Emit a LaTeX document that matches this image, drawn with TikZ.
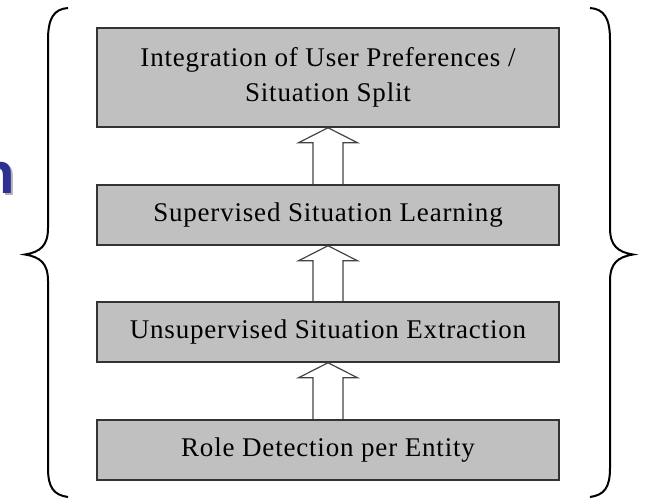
\documentclass[tikz,border=0pt]{standalone}
\usepackage{fontspec}
\setmainfont{Liberation Serif}[LetterSpace=3]
\newfontfamily\bigsans{Liberation Sans}
\usetikzlibrary{calc}
\definecolor{boxgray}{HTML}{C0C0C0}
\definecolor{boxline}{HTML}{333333}
\definecolor{arrline}{HTML}{444444}
\definecolor{titleblue}{HTML}{2E3192}
\tikzset{
  stage/.style={draw=boxline, line width=1.5pt, fill=boxgray, minimum width=462pt, inner sep=0pt, align=center, font=\fontsize{27}{35}\selectfont},
  blk/.style={draw=arrline, line width=1.2pt, line join=miter},
  brace/.style={draw=black, line width=2pt},
}
\begin{document}
\begin{tikzpicture}[x=1pt,y=-1pt]
\clip (0,0) rectangle (645,499);
\fill[white] (0,0) rectangle (645,499);
% partial title letter
\node[anchor=base east, inner sep=0pt, text=gray!60, font=\bigsans\bfseries\fontsize{58}{58}\selectfont] (nsh) at (17,195) {n};
\node[anchor=base east, inner sep=0pt, text=titleblue, font=\bigsans\bfseries\fontsize{58}{58}\selectfont] (ttl) at (15,193) {n};
% stages
\node[stage, minimum height=99pt] (b1) at (328,77.5) {Integration of User Preferences /\\Situation Split};
\node[stage, minimum height=60pt] (b2) at (328,215) {Supervised Situation Learning};
\node[stage, minimum height=60pt] (b3) at (328,332) {Unsupervised Situation Extraction};
\node[stage, minimum height=60pt] (b4) at (328,450) {Role Detection per Entity};
% block arrows
\foreach \lo/\hi in {b4/b3, b3/b2, b2/b1}{
  \draw[blk] ([xshift=-15pt]\lo.north) -- ([xshift=-15pt,yshift=-15pt]\hi.south)
    -- ([xshift=-29.5pt,yshift=-15pt]\hi.south) -- (\hi.south)
    -- ([xshift=29.5pt,yshift=-15pt]\hi.south) -- ([xshift=15pt,yshift=-15pt]\hi.south)
    -- ([xshift=15pt]\lo.north);
}
% braces
\draw[brace] (68,8) .. controls (54,9) and (48,18) .. (48,40) -- (48,228)
  .. controls (48,246) and (40,252) .. (25,254.5)
  .. controls (40,257) and (48,263) .. (48,281) -- (48,468)
  .. controls (48,488) and (54,495) .. (68,497);
\draw[brace] (590,8) .. controls (604,9) and (610,18) .. (610,40) -- (610,228)
  .. controls (610,246) and (618,252) .. (633,254.5)
  .. controls (618,257) and (610,263) .. (610,281) -- (610,468)
  .. controls (610,488) and (604,495) .. (590,497);
\end{tikzpicture}
\end{document}
